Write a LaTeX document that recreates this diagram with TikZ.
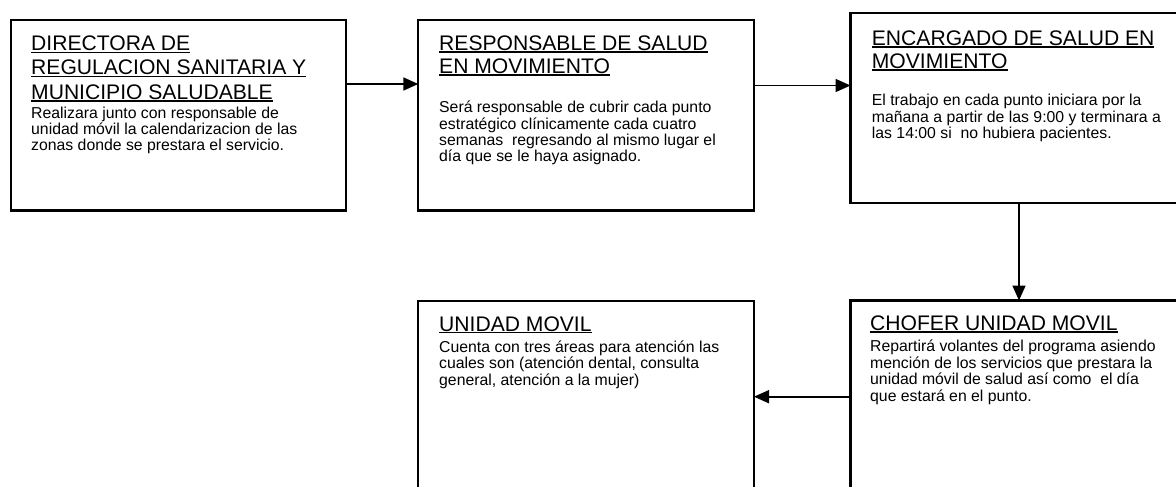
\documentclass[tikz,border=0pt]{standalone}
\usepackage{fontspec}
\setmainfont{Liberation Sans}
\usetikzlibrary{arrows.meta}
\newcommand{\myul}[1]{\setbox0\hbox{#1}\rlap{\rule[-2.3pt]{\wd0}{1.5pt}}\box0}
\tikzset{
  boxnode/.style={draw=black, line width=2.2pt, inner sep=0pt, outer sep=0pt, anchor=north west},
  ttl/.style={anchor=base west, inner sep=0pt, font=\fontsize{21.1pt}{24pt}\selectfont},
  bodytxt/.style={anchor=base west, inner sep=0pt, font=\fontsize{15.8pt}{16.3pt}\selectfont},
  conn/.style={line width=1.7pt, -{Triangle[length=15pt,width=13pt]}}
}
\begin{document}
\begin{tikzpicture}[x=1pt,y=-1pt]
\useasboundingbox (0,0) rectangle (1176,487);
\fill[white] (0,0) rectangle (1176,487);
\clip (0,0) rectangle (1176,487);
% boxes
\node[boxnode, minimum width=335.3pt, minimum height=190.5pt] (b1) at (10.7,20) {};
\node[boxnode, minimum width=335.7pt, minimum height=190.5pt] (b2) at (418.3,20) {};
\node[boxnode, minimum width=400pt, minimum height=190.2pt] (b3) at (850.5,12.8) {};
\node[boxnode, minimum width=400pt, minimum height=300pt] (b4) at (850.5,300.5) {};
\node[boxnode, minimum width=335.7pt, minimum height=300pt] (b5) at (418.3,301) {};
% box 1 text
\node[ttl] (t1a) at (31,51) {\myul{DIRECTORA DE}};
\node[ttl] (t1b) at (31,75) {\myul{REGULACION SANITARIA Y}};
\node[ttl] (t1c) at (31,99.5) {\myul{MUNICIPIO SALUDABLE}};
\node[bodytxt] (p1a) at (31,118.5) {Realizara junto con responsable de};
\node[bodytxt] (p1b) at (31,134.3) {unidad móvil la calendarizacion de las};
\node[bodytxt] (p1c) at (31,150) {zonas donde se prestara el servicio.};
% box 2 text
\node[ttl] (t2a) at (439,50.3) {\myul{RESPONSABLE DE SALUD}};
\node[ttl] (t2b) at (439,73.5) {\myul{EN MOVIMIENTO}};
\node[bodytxt] (p2a) at (439,113) {Será responsable de cubrir cada punto};
\node[bodytxt] (p2b) at (439,129.3) {estratégico clínicamente cada cuatro};
\node[bodytxt] (p2c) at (439,145.5) {semanas\ \ regresando al mismo lugar el};
\node[bodytxt] (p2d) at (439,161.7) {día que se le haya asignado.};
% box 3 text
\node[ttl] (t3a) at (871.7,45.5) {\myul{ENCARGADO DE SALUD EN}};
\node[ttl] (t3b) at (871.7,68.5) {\myul{MOVIMIENTO}};
\node[bodytxt] (p3a) at (871.7,106) {El trabajo en cada punto iniciara por la};
\node[bodytxt] (p3b) at (871.7,122) {mañana a partir de las 9:00 y terminara a};
\node[bodytxt] (p3c) at (871.7,138) {las 14:00 si\ \ no hubiera pacientes.};
% box 4 text
\node[ttl] (t4a) at (870,330.5) {\myul{CHOFER UNIDAD MOVIL}};
\node[bodytxt] (p4a) at (870,351.5) {Repartirá volantes del programa asiendo};
\node[bodytxt] (p4b) at (870,368) {mención de los servicios que prestara la};
\node[bodytxt] (p4c) at (870,384.5) {unidad móvil de salud así como\ \ el día};
\node[bodytxt] (p4d) at (870,401) {que estará en el punto.};
% box 5 text
\node[ttl] (t5a) at (439,331) {\myul{UNIDAD MOVIL}};
\node[bodytxt] (p5a) at (439,352) {Cuenta con tres áreas para atención las};
\node[bodytxt] (p5b) at (439,368.5) {cuales son (atención dental, consulta};
\node[bodytxt] (p5c) at (439,385) {general, atención a la mujer)};
% connectors
\coordinate (a1s) at ([yshift=-64pt]b1.north east);
\draw[conn] (a1s) -- (a1s -| b2.west);
\coordinate (a2s) at ([yshift=-65.5pt]b2.north east);
\draw[conn] (a2s) -- (a2s -| b3.west);
\coordinate (a3s) at ([xshift=168.5pt]b3.south west);
\draw[conn] (a3s) -- (a3s |- b4.north);
\coordinate (a4s) at ([yshift=-96.2pt]b4.north west);
\draw[conn] (a4s) -- (a4s -| b5.east);
\end{tikzpicture}
\end{document}
